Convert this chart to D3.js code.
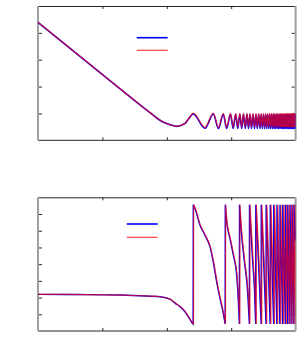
<!DOCTYPE html>
<html>
<head>
<meta charset="utf-8">
<script src="https://cdn.jsdelivr.net/npm/d3@7"></script>
<style>
html,body{margin:0;padding:0;background:#fff;}
svg{display:block;}
</style>
</head>
<body>
<svg id="chart" width="299" height="353"></svg>
<script>
// ---------- DATA (x in decades 0..4) ----------
// top panel: magnitude (shared x positions, two series)
const magU = [
  0, 0.963, 1.430, 1.584, 1.739, 1.848, 1.941, 2.050, 2.158, 2.283, 2.345,
  2.411, 2.593, 2.722, 2.803, 2.877, 2.930, 2.989, 3.031, 3.070, 3.102,
  3.134, 3.163, 3.191, 3.219, 3.245, 3.269, 3.292, 3.315, 3.339, 3.362,
  3.385, 3.405, 3.427, 3.447, 3.466, 3.484, 3.502, 3.519, 3.536, 3.553,
  3.568, 3.584, 3.598, 3.612, 3.626, 3.640, 3.652, 3.665, 3.677, 3.689,
  3.700, 3.713, 3.724, 3.734, 3.745, 3.756, 3.766, 3.776, 3.786, 3.795,
  3.804, 3.814, 3.823, 3.832, 3.840, 3.849, 3.857, 3.866, 3.874, 3.882,
  3.890, 3.897, 3.905, 3.913, 3.921, 3.929, 3.935, 3.943, 3.949, 3.957,
  3.963, 3.969, 3.975, 3.981, 3.988, 3.994, 4.000
];
const magBlue = [
  4.39, 2.52, 1.62, 1.32, 1.03, 0.82, 0.68, 0.58, 0.52, 0.63, 0.82,
  0.98, 0.45, 0.98, 0.44, 0.97, 0.44, 0.97, 0.44, 0.97, 0.44,
  0.97, 0.44, 0.97, 0.44, 0.97, 0.44, 0.97, 0.44, 0.97, 0.44,
  0.97, 0.44, 0.97, 0.44, 0.97, 0.44, 0.97, 0.44, 0.97, 0.44,
  0.97, 0.44, 0.97, 0.44, 0.97, 0.44, 0.97, 0.44, 0.97, 0.44,
  0.97, 0.44, 0.97, 0.44, 0.97, 0.44, 0.97, 0.44, 0.97, 0.44,
  0.97, 0.44, 0.97, 0.44, 0.97, 0.44, 0.97, 0.44, 0.97, 0.44,
  0.97, 0.44, 0.97, 0.44, 0.97, 0.44, 0.97, 0.44, 0.97, 0.44,
  0.97, 0.44, 0.97, 0.44, 0.97, 0.44, 0.97
];
const magRed = [
  4.39, 2.52, 1.62, 1.32, 1.03, 0.82, 0.68, 0.58, 0.52, 0.63, 0.83,
  1.01, 0.48, 1.01, 0.48, 1.00, 0.49, 1.00, 0.49, 1.00, 0.49,
  1.00, 0.49, 1.00, 0.49, 1.00, 0.49, 1.00, 0.49, 1.00, 0.49,
  1.00, 0.49, 1.00, 0.49, 1.00, 0.49, 1.00, 0.49, 1.00, 0.49,
  1.00, 0.49, 1.00, 0.49, 1.00, 0.49, 1.00, 0.49, 1.00, 0.49,
  1.00, 0.49, 1.00, 0.49, 1.00, 0.49, 1.00, 0.49, 1.00, 0.49,
  1.00, 0.49, 1.00, 0.49, 1.00, 0.49, 1.00, 0.49, 1.00, 0.49,
  1.00, 0.49, 1.00, 0.49, 1.00, 0.49, 1.00, 0.49, 1.00, 0.49,
  1.00, 0.49, 1.00, 0.49, 1.00, 0.49, 1.00
];

// bottom panel: phase (wrapping)
const phaseBlueU = [
  0, 0.652, 1.273, 1.584, 1.894, 2.050, 2.127, 2.205, 2.283, 2.345, 2.384, 2.409,
  2.411, 2.438, 2.516, 2.593, 2.671, 2.722, 2.775, 2.826, 2.877, 2.906,
  2.908, 2.930, 2.981, 3.033, 3.085, 3.110, 3.127,
  3.129, 3.150, 3.200, 3.250, 3.282,
  3.284, 3.300, 3.333, 3.362, 3.380,
  3.382, 3.424, 3.465,
  3.467, 3.505, 3.541,
  3.543, 3.605,
  3.607, 3.659,
  3.661, 3.709,
  3.711, 3.756,
  3.758, 3.800,
  3.801, 3.841,
  3.842, 3.878,
  3.879, 3.912,
  3.913, 3.943,
  3.944, 3.974,
  3.975, 4.000
];
const phaseBlueW = [
  2.19, 2.18, 2.15, 2.11, 2.05, 1.91, 1.67, 1.46, 1.15, 0.78, 0.54, 0.42,
  7.56, 7.33, 6.33, 5.73, 5.03, 4.12, 2.93, 1.95, 1.05, 0.42,
  7.56, 6.53, 5.53, 4.54, 3.34, 1.85, 0.42,
  7.56, 6.30, 4.30, 2.60, 0.42,
  7.56, 6.40, 4.20, 2.40, 0.42,
  7.56, 4.10, 0.42,
  7.56, 4.00, 0.42,
  7.56, 0.42,
  7.56, 0.42,
  7.56, 0.42,
  7.56, 0.42,
  7.56, 0.42,
  7.56, 0.42,
  7.56, 0.42,
  7.56, 0.42,
  7.56, 0.42,
  7.56, 0.42,
  7.56, 5.40
];
const phaseRedU = [
  0, 0.652, 1.273, 1.584, 1.894, 2.055, 2.133, 2.211, 2.289, 2.351, 2.390, 2.415,
  2.417, 2.444, 2.522, 2.599, 2.677, 2.728, 2.781, 2.832, 2.883, 2.912,
  2.914, 2.936, 2.987, 3.039, 3.091, 3.116, 3.134,
  3.136, 3.157, 3.207, 3.257, 3.290,
  3.292, 3.308, 3.341, 3.370, 3.389,
  3.391, 3.433, 3.475,
  3.477, 3.515, 3.552,
  3.554, 3.617,
  3.619, 3.672,
  3.674, 3.723,
  3.725, 3.771,
  3.773, 3.816,
  3.818, 3.858,
  3.860, 3.897,
  3.899, 3.932,
  3.934, 3.964,
  3.966, 3.994,
  3.996, 4.000
];
const phaseRedW = [
  2.19, 2.18, 2.15, 2.11, 2.05, 1.91, 1.67, 1.46, 1.15, 0.78, 0.54, 0.42,
  7.56, 7.33, 6.33, 5.73, 5.03, 4.12, 2.93, 1.95, 1.05, 0.42,
  7.56, 6.53, 5.53, 4.54, 3.34, 1.85, 0.42,
  7.56, 6.30, 4.30, 2.60, 0.42,
  7.56, 6.40, 4.20, 2.40, 0.42,
  7.56, 4.10, 0.42,
  7.56, 4.00, 0.42,
  7.56, 0.42,
  7.56, 0.42,
  7.56, 0.42,
  7.56, 0.42,
  7.56, 0.42,
  7.56, 0.42,
  7.56, 0.42,
  7.56, 0.42,
  7.56, 0.42,
  7.56, 0.42,
  7.56, 7.40
];

const xTicks = [1, 2, 3];
const magTicks = [1, 2, 3, 4];
const phaseTicks = [1, 2, 3, 4, 5, 6, 7];

// ---------- DRAW ----------
const svg = d3.select("#chart");
svg.append("rect").attr("width", 299).attr("height", 353).attr("fill", "#fff");

const x = d3.scaleLinear().domain([0, 4]).range([38, 295.6]);
const yTop = d3.scaleLinear().domain([0, 5]).range([140.3, 6]);
const yBot = d3.scaleLinear().domain([0, 8]).range([331, 197.3]);

const BLUE = "#0000ff", RED = "#ff0000";

function panel(y, yTicks) {
  const g = svg.append("g");
  const [y0, y1] = y.range();
  const [x0, x1] = x.range();
  g.append("line").attr("x1", x0).attr("x2", x1).attr("y1", y1 + 0.5).attr("y2", y1 + 0.5)
    .attr("stroke", "#262626").attr("stroke-width", 1);
  g.append("line").attr("x1", x0).attr("x2", x1).attr("y1", y0).attr("y2", y0)
    .attr("stroke", "#262626").attr("stroke-width", 1);
  g.append("line").attr("x1", x0).attr("x2", x0).attr("y1", y1).attr("y2", y0)
    .attr("stroke", "#a0a0a0").attr("stroke-width", 2);
  g.append("line").attr("x1", x1).attr("x2", x1).attr("y1", y1).attr("y2", y0)
    .attr("stroke", "#a0a0a0").attr("stroke-width", 2);
  const styleAxis = sel => { sel.select(".domain").remove(); sel.selectAll("line").attr("stroke", "#262626"); };
  g.append("g").attr("transform", `translate(0,${y0})`)
    .call(d3.axisTop(x).tickValues(xTicks).tickSize(3).tickFormat("")).call(styleAxis);
  g.append("g").attr("transform", `translate(0,${y1})`)
    .call(d3.axisBottom(x).tickValues(xTicks).tickSize(3).tickFormat("")).call(styleAxis);
  g.append("g").attr("transform", `translate(${x0 + 1},0)`)
    .call(d3.axisRight(y).tickValues(yTicks).tickSize(3).tickFormat("")).call(styleAxis);
  g.append("g").attr("transform", `translate(${x1 - 1},0)`)
    .call(d3.axisLeft(y).tickValues(yTicks).tickSize(3).tickFormat("")).call(styleAxis);
  return g;
}

// top panel
panel(yTop, magTicks);
svg.append("clipPath").attr("id", "clipTop").append("rect")
  .attr("x", 38).attr("y", 6).attr("width", 257.6).attr("height", 134.3);
const lineTop = d3.line().x(d => x(d[0])).y(d => yTop(d[1])).curve(d3.curveMonotoneX);
svg.append("path").datum(magU.map((u, i) => [u, magBlue[i]]))
  .attr("d", lineTop).attr("fill", "none").attr("stroke", BLUE).attr("stroke-width", 1.6)
  .attr("clip-path", "url(#clipTop)");
svg.append("path").datum(magU.map((u, i) => [u, magRed[i]]))
  .attr("d", lineTop).attr("fill", "none").attr("stroke", RED).attr("stroke-opacity", 0.7).attr("stroke-width", 1.3)
  .attr("clip-path", "url(#clipTop)");

// legend top
svg.append("line").attr("x1", 136.7).attr("x2", 167.7).attr("y1", 37.7).attr("y2", 37.7)
  .attr("stroke", BLUE).attr("stroke-width", 1.6);
svg.append("line").attr("x1", 136.7).attr("x2", 167.7).attr("y1", 50.3).attr("y2", 50.3)
  .attr("stroke", RED).attr("stroke-opacity", 0.7).attr("stroke-width", 1.3);

// bottom panel
panel(yBot, phaseTicks);
svg.append("clipPath").attr("id", "clipBot").append("rect")
  .attr("x", 38).attr("y", 197.3).attr("width", 257.6).attr("height", 133.7);

// smooth each branch between phase wraps, join wraps with vertical jumps
const branchLine = d3.line().x(d => x(d[0])).y(d => yBot(d[1])).curve(d3.curveMonotoneX);
function wrappedPath(us, ws) {
  const segs = [];
  let cur = [];
  us.forEach((u, i) => {
    if (i > 0 && ws[i] - ws[i - 1] > 3) { segs.push(cur); cur = []; }
    cur.push([u, ws[i]]);
  });
  segs.push(cur);
  return segs.map((s, k) => {
    const d = s.length > 1 ? branchLine(s) : `M${x(s[0][0])},${yBot(s[0][1])}`;
    return k === 0 ? d : "L" + d.slice(1);
  }).join("");
}
svg.append("path").attr("d", wrappedPath(phaseBlueU, phaseBlueW))
  .attr("fill", "none").attr("stroke", BLUE).attr("stroke-width", 1.4)
  .attr("clip-path", "url(#clipBot)");
svg.append("path").attr("d", wrappedPath(phaseRedU, phaseRedW))
  .attr("fill", "none").attr("stroke", RED).attr("stroke-opacity", 0.7).attr("stroke-width", 1.2)
  .attr("clip-path", "url(#clipBot)");

// legend bottom
svg.append("line").attr("x1", 126.7).attr("x2", 157.7).attr("y1", 224).attr("y2", 224)
  .attr("stroke", BLUE).attr("stroke-width", 1.6);
svg.append("line").attr("x1", 126.7).attr("x2", 157.7).attr("y1", 237.3).attr("y2", 237.3)
  .attr("stroke", RED).attr("stroke-opacity", 0.7).attr("stroke-width", 1.3);
</script>
</body>
</html>
